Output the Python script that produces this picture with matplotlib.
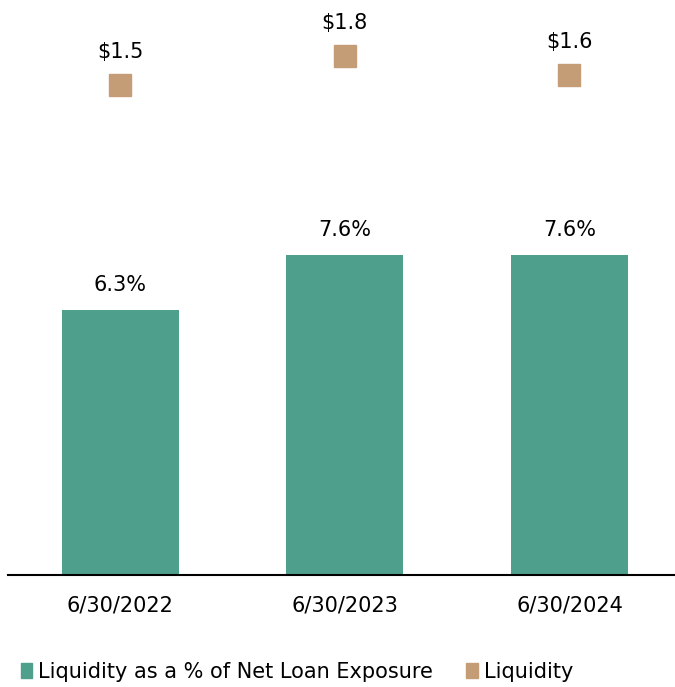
import matplotlib
matplotlib.use("Agg")
import matplotlib.pyplot as plt
import matplotlib.patches as mpatches

plt.rcParams["font.family"] = ["DejaVu Sans"]

# Data
dates = ["6/30/2022", "6/30/2023", "6/30/2024"]
pct_of_loans = [6.3, 7.6, 7.6]          # Liquidity as a % of Net Loan Exposure
liquidity = [1.5, 1.8, 1.6]             # Liquidity ($)

GREEN = "#4E9F8B"
TAN = "#C49C76"

fig = plt.figure(figsize=(6.75, 6.87), dpi=100)
# axes in pixels: left 8, right 675, bottom 575 (from top), top 20
ax = fig.add_axes([8 / 675, 1 - 575 / 687, 667 / 675, 555 / 687])
x = [0, 1, 2]
ax.bar(x, pct_of_loans, width=0.52, color=GREEN, zorder=2)
ax.set_xlim(-0.5, 2.47)
ax.set_ylim(0, 13.18)
for xi, v in zip(x, pct_of_loans):
    ax.text(xi, v + 0.35, f"{v:.1f}%", ha="center", va="bottom", fontsize=15)

ax.set_xticks(x)
ax.set_xticklabels(dates, fontsize=15)
ax.tick_params(axis="x", length=0, pad=15)
ax.set_yticks([])
for s in ["top", "right", "left"]:
    ax.spines[s].set_visible(False)
ax.spines["bottom"].set_linewidth(1.5)

ax2 = ax.twinx()
ax2.set_ylim(-3.57, 2.17)
ax2.plot(x, liquidity, linestyle="none", marker="s", markersize=16,
         color=TAN, zorder=3)
for xi, v in zip(x, liquidity):
    ax2.text(xi, v + 0.24, f"${v:.1f}", ha="center", va="bottom", fontsize=15)
ax2.set_yticks([])
for s in ax2.spines.values():
    s.set_visible(False)

handles = [
    mpatches.Patch(color=GREEN, label="Liquidity as a % of Net Loan Exposure"),
    mpatches.Patch(color=TAN, label="Liquidity"),
]
fig.legend(handles=handles, loc="center", bbox_to_anchor=(0.44, 1 - 672 / 687),
           ncol=2, frameon=False, fontsize=15, handlelength=0.55, handleheight=0.75,
           handletextpad=0.3, columnspacing=1.6)

fig.savefig("out.png", dpi=100)
